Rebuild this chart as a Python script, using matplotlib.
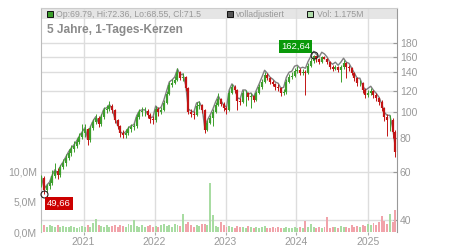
import matplotlib
matplotlib.use("Agg")
import matplotlib.pyplot as plt
from matplotlib.patches import Rectangle
import numpy as np
import pandas as pd

plt.rcParams["font.family"] = ["Liberation Sans", "DejaVu Sans"]

# bi-weekly candles
start = "2020-05-29"
first_open = 55.0
closes = [
    57.2, 51.6, 53.3, 54.7, 58.1, 60.7, 58.6, 62.7, 64.9, 67.7,
    70.7, 73.1, 75.0, 77.6, 81.0, 83.8, 86.6, 78.9, 87.4, 92.0,
    95.2, 90.5, 95.9, 101.8, 102.7, 105.4, 101.8, 93.6, 88.9, 83.8,
    82.4, 83.8, 86.6, 88.2, 88.9, 95.9, 100.1, 100.9, 100.9, 97.6,
    94.4, 93.6, 102.7, 100.1, 101.8, 108.1, 116.7, 126.0, 128.2, 131.4,
    140.7, 133.7, 134.8, 122.8, 100.1, 98.4, 97.6, 105.4, 106.3, 101.8,
    85.9, 91.2, 95.2, 100.1, 106.3, 111.8, 107.2, 103.5, 101.8, 117.7,
    123.9, 120.7, 110.0, 109.1, 117.7, 117.7, 113.7, 114.7, 110.9, 117.7,
    123.9, 129.2, 137.1, 133.7, 129.2, 127.1, 123.9, 122.8, 117.7, 118.7,
    129.2, 134.8, 136.0, 141.9, 143.1, 139.5, 140.7, 139.5, 148.0, 154.5,
    161.1, 157.1, 153.2, 159.8, 157.5, 153.2, 146.8, 144.3, 146.8, 143.1,
    146.8, 151.9, 146.8, 145.5, 139.5, 133.7, 128.2, 128.2, 120.7, 115.7,
    117.7, 119.7, 115.7, 112.8, 109.1, 103.5, 95.9, 93.6, 93.6, 84.5,
    71.5,
]
highs = [
    58.5, 58.0, 54.5, 56.5, 61.0, 65.0, 62.0, 64.0, 67.0, 70.0,
    73.0, 75.5, 78.0, 80.0, 84.0, 90.0, 90.0, 87.5, 89.0, 94.5,
    98.0, 96.5, 98.5, 104.5, 106.5, 109.5, 107.0, 102.5, 94.5, 89.5,
    86.0, 86.5, 89.0, 90.5, 91.5, 98.5, 103.0, 104.0, 104.0, 102.5,
    99.0, 96.5, 105.5, 104.0, 104.5, 111.0, 119.5, 129.0, 132.0, 135.5,
    145.0, 142.0, 139.0, 136.0, 123.5, 103.0, 101.0, 108.5, 110.0, 107.5,
    102.5, 93.5, 97.5, 103.0, 109.0, 118.0, 112.5, 108.5, 105.0, 121.0,
    127.0, 125.5, 121.5, 113.0, 120.5, 121.0, 118.5, 118.0, 116.0, 120.0,
    127.0, 132.0, 141.0, 139.0, 135.0, 131.0, 128.5, 126.5, 124.0, 121.5,
    132.0, 138.0, 140.0, 145.5, 147.5, 145.0, 144.5, 143.5, 151.5, 158.0,
    162.64, 161.5, 158.0, 161.5, 160.5, 158.5, 154.0, 148.5, 149.5, 148.0,
    149.5, 155.0, 153.0, 149.5, 147.0, 140.5, 135.0, 131.5, 129.5, 122.5,
    120.5, 122.5, 121.0, 117.5, 114.0, 110.5, 104.5, 98.5, 97.5, 95.0,
    85.5,
]
lows = [
    53.0, 49.66, 50.5, 52.0, 54.0, 57.0, 56.5, 57.5, 61.5, 63.5,
    66.5, 69.0, 71.5, 73.5, 76.5, 79.5, 81.0, 75.5, 77.5, 86.0,
    90.5, 88.0, 89.0, 94.5, 99.0, 101.0, 99.0, 91.0, 86.5, 81.0,
    80.0, 80.5, 82.5, 84.5, 85.5, 87.0, 94.5, 97.0, 96.5, 95.0,
    91.5, 90.5, 92.0, 97.0, 98.0, 100.5, 107.0, 115.5, 123.5, 126.5,
    130.5, 131.0, 130.0, 120.0, 98.0, 95.5, 94.5, 96.5, 102.5, 99.0,
    84.0, 85.0, 90.0, 88.5, 99.0, 105.0, 105.0, 101.0, 98.5, 101.0,
    116.5, 118.0, 101.8, 106.5, 108.0, 105.0, 111.0, 103.5, 108.5, 110.0,
    116.5, 122.0, 128.0, 131.0, 126.5, 124.5, 121.0, 120.0, 115.0, 115.5,
    117.0, 128.0, 132.5, 134.5, 139.0, 136.5, 137.0, 116.0, 138.0, 146.5,
    152.0, 153.0, 150.0, 152.0, 156.5, 150.5, 144.0, 141.5, 142.5, 140.0,
    129.0, 144.0, 133.0, 142.0, 136.5, 130.5, 125.0, 125.0, 117.5, 112.5,
    113.5, 115.5, 112.5, 110.0, 106.0, 100.5, 92.5, 81.5, 85.0, 80.5,
    68.55,
]
adjusted = [
    57.8, 52.1, 53.8, 55.2, 58.7, 61.3, 59.2, 63.3, 65.5, 68.4,
    71.4, 73.8, 75.8, 78.4, 81.8, 84.6, 87.5, 79.7, 88.3, 92.9,
    96.2, 91.4, 96.9, 102.8, 103.7, 106.5, 102.8, 94.5, 89.8, 84.6,
    83.2, 84.6, 87.5, 89.1, 89.8, 96.9, 101.1, 101.9, 101.9, 98.6,
    95.3, 95.9, 105.3, 102.6, 104.3, 110.8, 119.6, 129.2, 131.4, 134.7,
    144.2, 137.0, 138.2, 125.9, 102.6, 100.9, 100.0, 108.0, 109.0, 104.3,
    88.0, 93.5, 97.6, 102.6, 109.0, 114.6, 109.9, 106.1, 104.3, 120.6,
    127.0, 123.7, 112.8, 111.8, 120.6, 120.6, 116.5, 117.6, 113.7, 120.6,
    127.0, 134.4, 142.6, 139.0, 134.4, 132.2, 128.9, 127.7, 122.4, 123.4,
    134.4, 140.2, 141.4, 147.6, 148.8, 145.1, 146.3, 145.1, 153.9, 160.7,
    167.5, 163.4, 159.3, 166.2, 163.8, 159.3, 152.7, 150.1, 152.7, 148.8,
    152.7, 158.0, 152.7, 151.3, 145.1, 139.0, 133.3, 133.3, 125.5, 120.3,
    122.4, 124.5, 120.3, 117.3, 113.5, 107.6, 99.7, 97.3, 97.3, 87.9,
    74.4,
]
volume_m = [
    1.3, 1.1, 0.9, 1.2, 1.0, 0.8, 1.1, 0.9, 1.0, 0.8,
    0.9, 1.0, 0.8, 0.7, 0.9, 1.0, 0.8, 1.1, 0.9, 1.5,
    2.2, 1.2, 1.0, 0.9, 1.1, 0.8, 1.0, 1.2, 0.9, 1.1,
    1.0, 0.8, 1.3, 1.1, 2.0, 1.0, 0.9, 1.2, 0.8, 1.0,
    1.1, 0.9, 1.0, 0.8, 1.2, 1.4, 1.0, 1.1, 0.9, 1.3,
    1.2, 1.0, 3.0, 1.4, 1.6, 1.1, 0.9, 1.2, 1.0, 1.4,
    1.3, 1.1, 8.2, 2.8, 1.0, 0.9, 1.7, 1.1, 0.8, 1.0,
    0.9, 0.7, 1.0, 0.8, 0.9, 0.7, 1.0, 0.8, 0.6, 0.9,
    0.7, 0.8, 1.0, 0.7, 0.6, 0.8, 0.7, 0.9, 0.6, 0.7,
    0.8, 0.6, 0.7, 0.9, 0.6, 0.8, 0.7, 1.8, 0.9, 1.3,
    0.8, 0.7, 0.9, 0.6, 0.8, 2.5, 0.7, 0.9, 0.8, 0.7,
    1.0, 0.8, 0.9, 0.7, 1.1, 0.8, 1.0, 0.9, 1.2, 1.0,
    1.3, 1.1, 1.5, 1.2, 1.6, 2.7, 1.8, 1.4, 3.0, 1.6,
    3.7,
]

price_ticks = [40, 60, 80, 100, 120, 140, 160, 180]
vol_ticks = [0, 5, 10]
vol_labels = ["0,0M", "5,0M", "10,0M"]
years = [2021, 2022, 2023, 2024, 2025]
header = ["Op:69.79, Hi:72.36, Lo:68.55, Cl:71.5", "volladjustiert", "Vol: 1.175M"]
title = "5 Jahre, 1-Tages-Kerzen"

dates = pd.date_range(start, periods=len(closes), freq="14D")
opens = [first_open] + closes[:-1]
up = [c >= o for c, o in zip(closes, opens)]

green, red = "#3c9e2c", "#c21414"
vgreen, vred = "#a8dca2", "#f1a3aa"
txt = "#999999"

fig = plt.figure(figsize=(4.5, 2.5), dpi=100)
ax = fig.add_axes([41 / 450, 18 / 250, 356 / 450, 224 / 250])
axv = ax.twinx()

# price panel
cols = [green if u else red for u in up]
ax.plot(dates, adjusted, color="#7f7f7f", lw=1.0, zorder=2)
ax.vlines(dates, lows, highs, colors=cols, lw=0.7, zorder=3)
ax.vlines(dates, np.minimum(opens, closes), np.maximum(opens, closes),
          colors=cols, lw=1.6, zorder=3)

ax.set_yscale("log")
ax.set_ylim(36.1, 242)
ax.set_yticks(price_ticks)
ax.set_yticklabels([str(t) for t in price_ticks])
ax.yaxis.set_minor_locator(matplotlib.ticker.NullLocator())
ax.yaxis.tick_right()
ax.tick_params(axis="y", direction="in", length=3, color="#999999",
               labelcolor=txt, labelsize=7.5, pad=2)

ax.set_xlim(pd.Timestamp("2020-05-27"), pd.Timestamp("2025-06-01"))
ax.set_xticks([pd.Timestamp(f"{y}-01-01") for y in years])
ax.set_xticklabels([str(y) for y in years])
ax.tick_params(axis="x", length=2, color="#aaaaaa", labelcolor=txt,
               labelsize=7.5, pad=1.5)

ax.set_axisbelow(True)
ax.grid(True, color="#dddddd", lw=1.0)
ax.spines["left"].set_color("#bbbbbb")
ax.spines["right"].set_color("#999999")
ax.spines["top"].set_color("#cccccc")
ax.spines["bottom"].set_visible(False)

# header band with legend entries
ax.add_patch(Rectangle((0, 0.951), 1, 0.049, transform=ax.transAxes,
                       facecolor="#e5e5e5", edgecolor="none", zorder=0.4))
for xs, xt, fc, label in [(0.0245, 0.042, "#3a9e2a", header[0]),
                          (0.5295, 0.547, "#555555", header[1]),
                          (0.755, 0.774, "#b0dcaa", header[2])]:
    ax.plot([xs], [0.971], marker="s", ms=4.3, mfc=fc, mec="#111111",
            mew=0.7, transform=ax.transAxes, clip_on=False, zorder=4)
    ax.text(xt, 0.971, label, transform=ax.transAxes, fontsize=6.3,
            color=txt, va="center", ha="left", zorder=4)

ax.text(0.017, 0.902, title, transform=ax.transAxes, fontsize=8.6,
        fontweight="bold", color="#8a8a8a", va="center", ha="left")

# max / min markers
imax = int(np.argmax(highs))
imin = int(np.argmin(lows))
for i, val, off, fc in [(imax, highs[imax], (-18, 8), "#0a990a"),
                        (imin, lows[imin], (15, -9), "#cc0000")]:
    ax.plot([dates[i]], [val], marker="o", ms=5, mfc="none", mec="#222222",
            mew=0.8, zorder=5, clip_on=False)
    ax.annotate(f"{val:.2f}".replace(".", ","), (dates[i], val), xytext=off,
                textcoords="offset pixels", ha="center", va="center",
                color="white", fontsize=6.8, zorder=6,
                bbox=dict(boxstyle="square,pad=0.2", fc=fc, ec="none"))

# volume panel
axv.bar(dates, volume_m, width=10, color=[vgreen if u else vred for u in up],
        zorder=1)
axv.set_ylim(0, 37.33)
axv.yaxis.tick_left()
axv.set_yticks(vol_ticks)
axv.set_yticklabels(vol_labels)
axv.tick_params(axis="y", length=0, labelcolor=txt, labelsize=7.5, pad=3)
for s in axv.spines.values():
    s.set_visible(False)

fig.savefig("out.png", dpi=100)
